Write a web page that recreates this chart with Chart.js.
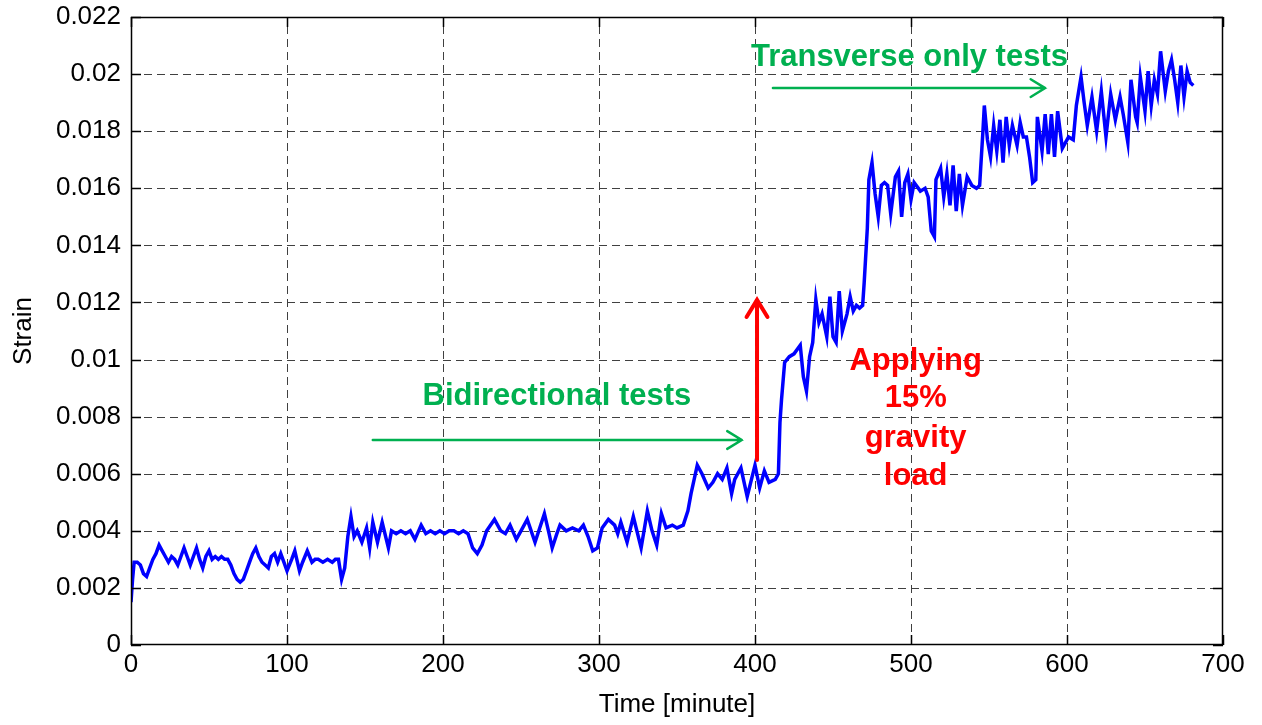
<!DOCTYPE html>
<html>
<head>
<meta charset="utf-8">
<script src="https://cdn.jsdelivr.net/npm/chart.js@4.4.1/dist/chart.umd.min.js"></script>
<style>
  html, body { margin: 0; padding: 0; background: #fff; }
  #wrap { width: 1262px; height: 725px; }
</style>
</head>
<body>
<div id="wrap"><canvas id="myChart" width="1262" height="725"></canvas></div>
<script>
// time in minutes, strain
const tiempo = [0,1,2,4,6,8,10,12,14,16,18,20,22,24,26,28,30,32,34,36,38,40,42,44,46,48,50,52,54,56,58,60,62,64,66,68,70,72,74,76,78,80,82,84,86,88,90,92,94,96,98,
  100,103,105,108,110,113,116,118,120,123,126,129,131,133,135,137,139,141,143,145,148,151,153,155,158,161,165,167,170,173,176,179,182,186,189,192,195,198,
  201,204,207,210,213,216,219,222,225,228,233,237,240,243,247,250,254,259,262,265,268,270,273,275,279,283,287,290,293,296,299,
  302,306,310,312,314,318,322,327,331,334,337,340,343,347,350,354,357,359,363,366,370,373,376,379,382,385,387,391,395,
  400,403,406,409,413,415,416,417,419,422,425,429,431,433,435,437,439,441,443,446,448,450,452,454,456,459,461,463,465,467,469,470,472,473,475,477,479,481,483,485,487,490,492,494,496,498,
  500,502,506,509,511,513,515,516,519,521,523,525,527,529,531,533,536,539,542,544,545,546,547,549,551,553,555,557,559,561,563,565,568,570,572,574,576,578,580,581,584,586,588,590,592,594,597,
  601,604,606,609,611,613,616,619,622,625,628,631,634,636,639,641,644,645,647,650,652,654,656,658,660,663,665,667,669,671,673,675,677,679,681];

const strain = [0.0015,0.0023,0.0029,0.0029,0.0028,0.0025,0.0024,0.0027,0.0030,0.0032,0.0035,0.0033,0.0031,0.0029,0.0031,0.0030,0.0028,0.0031,0.0034,0.0031,0.0028,0.0031,0.0034,0.0030,0.0027,0.0031,0.0033,0.0030,0.0031,0.0030,0.0031,0.0030,0.0030,0.0028,0.0025,0.0023,0.0022,0.0023,0.0026,0.0029,0.0032,0.0034,0.0031,0.0029,0.0028,0.0027,0.0031,0.0032,0.0029,0.0032,0.0029,
  0.0026,0.0030,0.0033,0.0026,0.0029,0.0033,0.0029,0.0030,0.0030,0.0029,0.0030,0.0029,0.0030,0.0030,0.0023,0.0027,0.0038,0.0045,0.0038,0.0040,0.0036,0.0041,0.0034,0.0043,0.0036,0.0043,0.0034,0.0040,0.0039,0.0040,0.0039,0.0040,0.0037,0.0042,0.0039,0.0040,0.0039,0.0040,
  0.0039,0.0040,0.0040,0.0039,0.0040,0.0039,0.0034,0.0032,0.0035,0.0040,0.0044,0.0040,0.0039,0.0042,0.0037,0.0040,0.0044,0.0036,0.0041,0.0046,0.0039,0.0034,0.0039,0.0042,0.0040,0.0041,0.0040,0.0042,0.0038,0.0033,0.0034,
  0.0041,0.0044,0.0042,0.0039,0.0043,0.0036,0.0045,0.0034,0.0047,0.0040,0.0035,0.0046,0.0041,0.0042,0.0041,0.0042,0.0047,0.0053,0.0063,0.0060,0.0055,0.0057,0.0060,0.0058,0.0062,0.0053,0.0058,0.0062,0.0052,
  0.0063,0.0055,0.0061,0.0057,0.0058,0.0060,0.0078,0.0086,0.0099,0.0101,0.0102,0.0105,0.0094,0.0089,0.0101,0.0106,0.0121,0.0113,0.0116,0.0108,0.0122,0.0108,0.0106,0.0124,0.0110,0.0116,0.0122,0.0117,0.0119,0.0118,0.0119,0.0127,0.0146,0.0163,0.0169,0.0158,0.0150,0.0161,0.0162,0.0161,0.0151,0.0164,0.0166,0.0150,0.0162,0.0165,
  0.0156,0.0162,0.0159,0.0160,0.0157,0.0145,0.0143,0.0163,0.0167,0.0157,0.0165,0.0154,0.0168,0.0152,0.0165,0.0154,0.0164,0.0161,0.0160,0.0161,0.0170,0.0179,0.0189,0.0177,0.0171,0.0182,0.0173,0.0184,0.0169,0.0185,0.0175,0.0182,0.0175,0.0183,0.0178,0.0178,0.0171,0.0162,0.0163,0.0185,0.0173,0.0186,0.0172,0.0186,0.0171,0.0187,0.0174,
  0.0178,0.0177,0.0189,0.0199,0.0190,0.0182,0.0192,0.0180,0.0194,0.0178,0.0193,0.0184,0.0192,0.0186,0.0176,0.0198,0.0185,0.0183,0.0199,0.0187,0.0201,0.0189,0.0198,0.0193,0.0208,0.0194,0.0201,0.0205,0.0198,0.0190,0.0203,0.0192,0.0201,0.0197,0.0196];

const xTicks = [0,100,200,300,400,500,600,700];
const yTicks = [0,0.002,0.004,0.006,0.008,0.01,0.012,0.014,0.016,0.018,0.02,0.022];

const verde = '#00b050';
const rojo = '#ff0000';

// arrows [x1, y1, x2, y2] in data units
const flechaBi = [155, 0.00718, 391.5, 0.00718];
const flechaTr = [411.5, 0.01951, 586, 0.01951];
const flechaCarga = [401.3, 0.00648, 401.3, 0.01209];
const textoCarga = ['Applying', '15%', 'gravity', 'load'];

function flecha(ctx, x1, y1, x2, y2, color, ancho, cabeza) {
  const ang = Math.atan2(y2 - y1, x2 - x1);
  ctx.save();
  ctx.strokeStyle = color;
  ctx.lineWidth = ancho;
  ctx.lineCap = 'round';
  ctx.beginPath();
  ctx.moveTo(x1, y1);
  ctx.lineTo(x2, y2);
  ctx.moveTo(x2 - cabeza * Math.cos(ang - 0.55), y2 - cabeza * Math.sin(ang - 0.55));
  ctx.lineTo(x2, y2);
  ctx.lineTo(x2 - cabeza * Math.cos(ang + 0.55), y2 - cabeza * Math.sin(ang + 0.55));
  ctx.stroke();
  ctx.restore();
}

const extras = {
  id: 'extras',
  beforeDatasetsDraw(chart) {
    // dashed grid like matlab
    const ctx = chart.ctx;
    const xs = chart.scales.x, ys = chart.scales.y;
    const a = chart.chartArea;
    ctx.save();
    ctx.strokeStyle = '#404040';
    ctx.lineWidth = 1;
    ctx.setLineDash([8, 5]);
    ctx.beginPath();
    xTicks.slice(1, -1).forEach(t => {
      const x = Math.round(xs.getPixelForValue(t)) + 0.5;
      ctx.moveTo(x, a.bottom); ctx.lineTo(x, a.top);
    });
    yTicks.slice(1, -1).forEach(t => {
      const y = Math.round(ys.getPixelForValue(t)) + 0.5;
      ctx.moveTo(a.left, y); ctx.lineTo(a.right, y);
    });
    ctx.stroke();
    ctx.restore();
  },
  afterDatasetsDraw(chart) {
    const ctx = chart.ctx;
    const xs = chart.scales.x, ys = chart.scales.y;
    const a = chart.chartArea;
    const px = v => xs.getPixelForValue(v);
    const py = v => ys.getPixelForValue(v);

    // box + inward ticks
    ctx.save();
    ctx.strokeStyle = '#000';
    ctx.lineWidth = 1.5;
    ctx.strokeRect(a.left + 0.5, a.top + 0.5, a.right - a.left - 1, a.bottom - a.top - 1);
    ctx.beginPath();
    xTicks.forEach(t => {
      const x = Math.round(px(t)) + 0.5;
      ctx.moveTo(x, a.bottom); ctx.lineTo(x, a.bottom - 10);
      ctx.moveTo(x, a.top); ctx.lineTo(x, a.top + 10);
    });
    yTicks.forEach(t => {
      const y = Math.round(py(t)) + 0.5;
      ctx.moveTo(a.left, y); ctx.lineTo(a.left + 10, y);
      ctx.moveTo(a.right, y); ctx.lineTo(a.right - 10, y);
    });
    ctx.stroke();
    ctx.restore();

    // arrows
    flecha(ctx, px(flechaBi[0]), py(flechaBi[1]), px(flechaBi[2]), py(flechaBi[3]), verde, 2.5, 17);
    flecha(ctx, px(flechaTr[0]), py(flechaTr[1]), px(flechaTr[2]), py(flechaTr[3]), verde, 2.5, 17);
    flecha(ctx, px(flechaCarga[0]), py(flechaCarga[1]), px(flechaCarga[2]), py(flechaCarga[3]), rojo, 4, 20);

    // texts
    ctx.save();
    ctx.font = 'bold 31px "Liberation Sans", Arial, sans-serif';
    ctx.textAlign = 'center';
    ctx.textBaseline = 'middle';
    ctx.fillStyle = verde;
    ctx.fillText('Bidirectional tests', px(273), py(0.00869));
    ctx.fillText('Transverse only tests', px(499), py(0.0206));
    ctx.fillStyle = rojo;
    const ys2 = [0.00995, 0.00862, 0.00725, 0.00592];
    textoCarga.forEach((t, i) => ctx.fillText(t, px(503), py(ys2[i])));
    ctx.restore();
  }
};

const fuente = { family: '"Liberation Sans", Arial, sans-serif', size: 26 };

function sinPadding(s) {
  s.paddingTop = 0; s.paddingBottom = 0; s.paddingLeft = 0; s.paddingRight = 0;
}

const config = {
  type: 'line',
  data: {
    datasets: [{
      label: 'Strain',
      data: tiempo.map((t, i) => ({ x: t, y: strain[i] })),
      borderColor: '#0000ff',
      borderWidth: 3.5,
      pointRadius: 0,
      tension: 0,
      fill: false
    }]
  },
  options: {
    responsive: false,
    animation: false,
    layout: { padding: { left: 0, right: 39, top: 17, bottom: 0 } },
    plugins: { legend: { display: false }, tooltip: { enabled: false } },
    scales: {
      x: {
        type: 'linear',
        min: 0, max: 700,
        afterBuildTicks: s => { s.ticks = xTicks.map(v => ({ value: v })); },
        afterFit: s => { s.height = 80; sinPadding(s); },
        ticks: { color: '#000', font: fuente, padding: 4, maxRotation: 0 },
        grid: { display: false, drawTicks: false },
        border: { display: false },
        title: { display: true, text: 'Time [minute]', color: '#000', font: fuente, padding: { top: 0, bottom: 5 } }
      },
      y: {
        type: 'linear',
        min: 0, max: 0.022,
        afterBuildTicks: s => { s.ticks = yTicks.map(v => ({ value: v })); },
        afterFit: s => { s.width = 131; sinPadding(s); },
        ticks: { color: '#000', font: fuente, padding: 10, callback: v => String(+v.toFixed(3)) },
        grid: { display: false, drawTicks: false },
        border: { display: false },
        title: { display: true, text: 'Strain', color: '#000', font: fuente, padding: { top: 8, bottom: 0 } }
      }
    }
  },
  plugins: [extras]
};

const chart = new Chart(document.getElementById('myChart'), config);
</script>
</body>
</html>
